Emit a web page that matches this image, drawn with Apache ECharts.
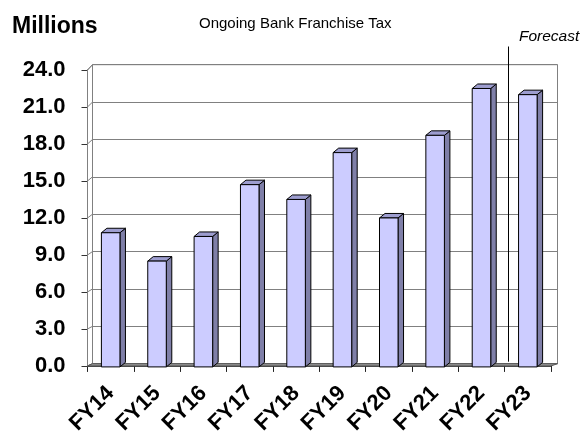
<!DOCTYPE html>
<html><head><meta charset="utf-8">
<script src="https://cdn.jsdelivr.net/npm/echarts@6/dist/echarts.min.js"></script>
<style>html,body{margin:0;padding:0;background:#fff}#c{width:583px;height:437px}</style>
</head><body><div id="c"></div>
<script>
const categories = ['FY14','FY15','FY16','FY17','FY18','FY19','FY20','FY21','FY22','FY23'];
const values = [10.8, 8.5, 10.5, 14.7, 13.5, 17.3, 12.0, 18.7, 22.5, 22.0];
const yTicks = [0, 3, 6, 9, 12, 15, 18, 21, 24];
const forecastIndex = 9; // first forecast category (FY23)

const FONT = '"Liberation Sans", Arial, sans-serif';
const FRONT = {left: 87.5, top: 70, right: 583 - 551, bottom: 437 - 366.7};
const BACK = {left: 92.5, top: 64.7, right: 583 - 557.5, bottom: 437 - 363.7};
const DX = 5.5, DY = -4.5;

function renderBar(params, api) {
  const i = api.value(0), v = api.value(1);
  const base = api.coord([i, 0]);
  const top = api.coord([i, v]);
  const bw = api.size([1, 0])[0] * 0.4;
  const x0 = base[0] - bw / 2, x1 = base[0] + bw / 2, y0 = base[1] + 1, y1 = top[1];
  return {type: 'group', children: [
    {type: 'polygon', shape: {points: [[x1, y1], [x1 + DX, y1 + DY], [x1 + DX, y0 + DY], [x1, y0]]},
      style: {fill: '#7f7fa8', stroke: '#000', lineWidth: 1}},
    {type: 'polygon', shape: {points: [[x0, y1], [x0 + DX, y1 + DY], [x1 + DX, y1 + DY], [x1, y1]]},
      style: {fill: '#9d9dcf', stroke: '#000', lineWidth: 1}},
    {type: 'rect', shape: {x: x0, y: y1, width: bw, height: y0 - y1},
      style: {fill: '#ccccff', stroke: '#000', lineWidth: 1}}
  ]};
}

const chart = echarts.init(document.getElementById('c'), null, {renderer: 'canvas'});
const option = {
  animation: false,
  backgroundColor: '#fff',
  title: {text: 'Ongoing Bank Franchise Tax', left: 194, top: 11,
    textStyle: {fontFamily: FONT, fontSize: 15, fontWeight: 'normal', color: '#000'}},
  grid: [
    Object.assign({show: false}, FRONT),
    Object.assign({show: true, borderColor: '#808080', borderWidth: 1, backgroundColor: '#fff'}, BACK)
  ],
  xAxis: [
    {type: 'category', gridIndex: 0, data: categories, boundaryGap: true,
      axisLine: {show: true, lineStyle: {color: '#444', width: 1}},
      axisTick: {show: true, length: 6, lineStyle: {color: '#222'}},
      axisLabel: {rotate: 45, margin: 24, fontFamily: FONT, fontSize: 22, fontWeight: 'bold', color: '#000'},
      splitLine: {show: false}},
    {type: 'category', gridIndex: 1, data: categories, boundaryGap: true,
      axisLine: {show: false}, axisTick: {show: false}, axisLabel: {show: false}, splitLine: {show: false}}
  ],
  yAxis: [
    {type: 'value', gridIndex: 0, min: 0, max: 24, interval: 3,
      axisLine: {show: true, lineStyle: {color: '#333'}},
      axisTick: {show: true, length: 6, lineStyle: {color: '#333'}},
      axisLabel: {margin: 22, padding: [6, 0, 0, 0], fontFamily: FONT, fontSize: 22, fontWeight: 'bold', color: '#000',
        formatter: v => v.toFixed(1)},
      splitLine: {show: false}},
    {type: 'value', gridIndex: 1, min: 0, max: 24, interval: 3,
      axisLine: {show: false}, axisTick: {show: false}, axisLabel: {show: false},
      splitLine: {show: true, lineStyle: {color: '#808080', width: 1}}}
  ],
  series: [{
    type: 'custom', xAxisIndex: 0, yAxisIndex: 0, z: 5,
    renderItem: renderBar,
    encode: {x: 0, y: 1},
    data: values.map((v, i) => [i, v])
  }]
};
chart.setOption(option);

// frame decorations derived from the axes
const fl = chart.convertToPixel({xAxisIndex: 0}, 0), fr = chart.convertToPixel({xAxisIndex: 0}, categories.length - 1);
const bl = chart.convertToPixel({xAxisIndex: 1}, 0), br = chart.convertToPixel({xAxisIndex: 1}, categories.length - 1);
const fBand = chart.convertToPixel({xAxisIndex: 0}, 1) - fl, bBand = chart.convertToPixel({xAxisIndex: 1}, 1) - bl;
const fx0 = fl - fBand / 2, fx1 = fr + fBand / 2, bx0 = bl - bBand / 2, bx1 = br + bBand / 2;
const fy = v => chart.convertToPixel({yAxisIndex: 0}, v);
const by = v => chart.convertToPixel({yAxisIndex: 1}, v);
const graphics = [];
// floor
graphics.push({type: 'polygon', z: 3, shape: {points: [[fx0, fy(0)], [bx0, by(0)], [bx1, by(0)], [fx1, fy(0)]]},
  style: {fill: '#969696', stroke: '#555', lineWidth: 1}});
// side wall
graphics.push({type: 'polygon', z: 2, shape: {points: [[fx0, fy(24)], [bx0, by(24)], [bx0, by(0)], [fx0, fy(0)]]},
  style: {fill: '#fff', stroke: '#808080', lineWidth: 1}});
yTicks.forEach(t => {
  graphics.push({type: 'line', z: 2, shape: {x1: fx0, y1: fy(t), x2: bx0, y2: by(t)}, style: {stroke: '#808080', lineWidth: 1}});
});
// forecast divider
const fDiv = chart.convertToPixel({xAxisIndex: 0}, forecastIndex) - fBand / 2;
const bDiv = chart.convertToPixel({xAxisIndex: 1}, forecastIndex) - bBand / 2;
const divX = Math.round((fDiv + bDiv) / 2) + 0.5;
graphics.push({type: 'line', z: 4, shape: {x1: divX, y1: 46.5, x2: divX, y2: by(0) - 2}, style: {stroke: '#000', lineWidth: 1}});
graphics.push({type: 'text', z: 6, style: {text: 'Forecast', x: 519, y: 37, verticalAlign: 'middle',
  font: 'italic 15.5px ' + FONT, fill: '#000'}});
graphics.push({type: 'text', z: 6, style: {text: 'Millions', x: 12, y: 27, verticalAlign: 'middle',
  font: 'bold 23px ' + FONT, fill: '#000'}});
chart.setOption({graphic: {elements: graphics}});
</script>
</body></html>
